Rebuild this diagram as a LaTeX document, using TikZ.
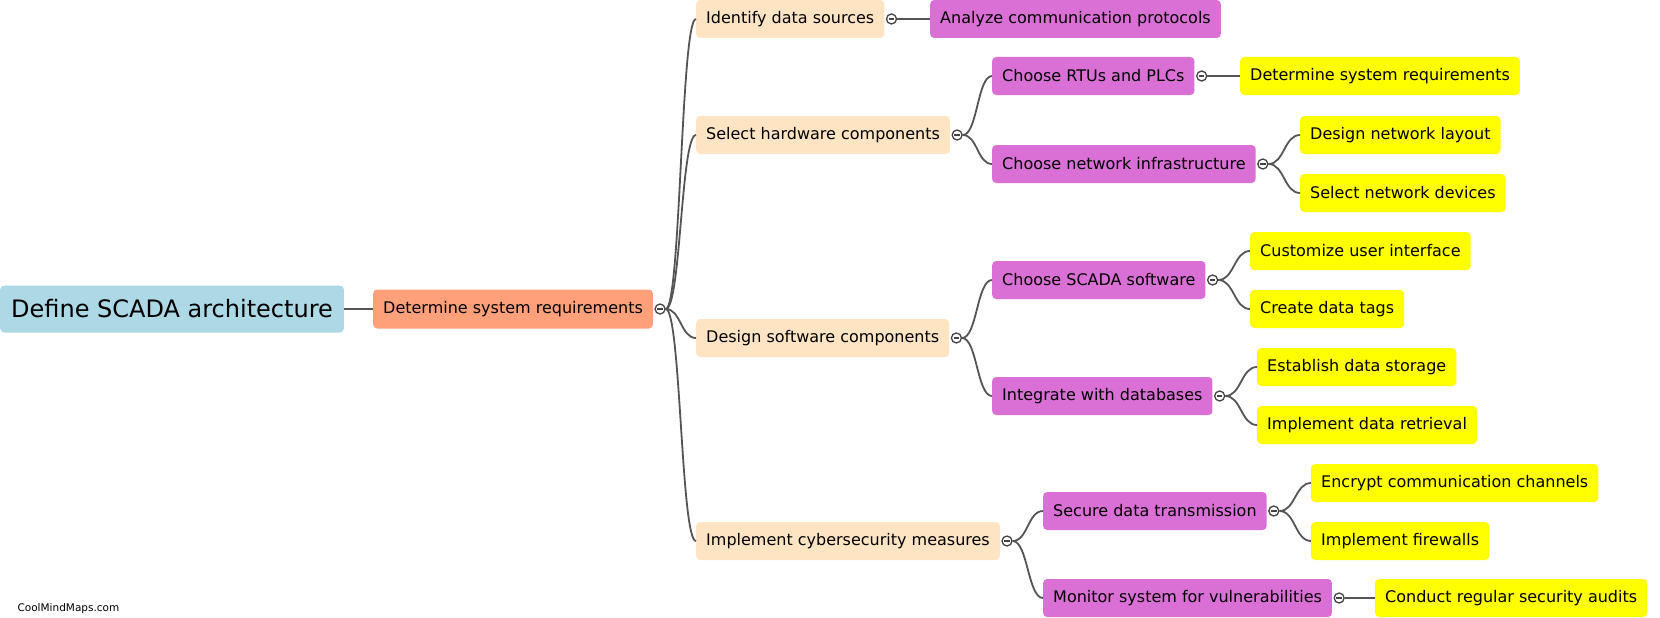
\documentclass[tikz,border=0pt]{standalone}
\usepackage{fontspec}
\setmainfont{DejaVu Sans}
\usetikzlibrary{calc,positioning}
\definecolor{rootblue}{HTML}{ADD8E6}
\definecolor{reqsalmon}{HTML}{FFA07A}
\definecolor{stagebisque}{HTML}{FFE4C4}
\definecolor{taskorchid}{HTML}{DA70D6}
\definecolor{leafyellow}{HTML}{FFFF00}
\definecolor{wire}{HTML}{555555}

\begin{document}
\begin{tikzpicture}[x=1pt, y=-1pt,
    box/.style={rounded corners=4pt, inner xsep=10pt, inner ysep=0pt, minimum height=38pt,
        anchor=west, text=black, font=\fontsize{16}{19}\selectfont},
    rootbox/.style={box, fill=rootblue, minimum height=47pt, inner xsep=11pt, font=\fontsize{24}{28}\selectfont},
    reqbox/.style={box, fill=reqsalmon, minimum height=39pt},
    stagebox/.style={box, fill=stagebisque},
    taskbox/.style={box, fill=taskorchid},
    leafbox/.style={box, fill=leafyellow},
    dot/.style={circle, draw=wire!80!black, fill=white, line width=1.3pt, minimum size=10pt, inner sep=0pt,
        path picture={\draw[wire!80!black, line width=1.6pt] ([xshift=-2.8pt]path picture bounding box.center)
            -- ([xshift=2.8pt]path picture bounding box.center);}},
    link/.style={draw=wire, line width=1.8pt,
        to path={let \p1=(\tikztostart), \p2=(\tikztotarget) in
            .. controls ({(\x1+\x2)/2},\y1) and ({(\x1+\x2)/2},\y2) .. (\tikztotarget)}}
]
    \useasboundingbox (0,0) rectangle (1660,618);

    \node[rootbox] (root) at (0,309) {Define SCADA architecture};
    \node[reqbox] (req) at (373,309) {Determine system requirements};

    \node[stagebox] (ids) at (696,19) {Identify data sources};
    \node[stagebox] (hw) at (696,135) {Select hardware components};
    \node[stagebox] (sw) at (696,338) {Design software components};
    \node[stagebox] (sec) at (696,541) {Implement cybersecurity measures};

    \node[taskbox] (acp) at (930,19) {Analyze communication protocols};
    \node[taskbox] (rtu) at (992,76) {Choose RTUs and PLCs};
    \node[taskbox] (net) at (992,164) {Choose network infrastructure};
    \node[taskbox] (scada) at (992,280) {Choose SCADA software};
    \node[taskbox] (db) at (992,396) {Integrate with databases};
    \node[taskbox] (tx) at (1043,511) {Secure data transmission};
    \node[taskbox] (mon) at (1043,598) {Monitor system for vulnerabilities};

    \node[leafbox] (dsr) at (1240,76) {Determine system requirements};
    \node[leafbox] (layout) at (1300,135) {Design network layout};
    \node[leafbox] (devices) at (1300,193) {Select network devices};
    \node[leafbox] (ui) at (1250,251) {Customize user interface};
    \node[leafbox] (tags) at (1250,309) {Create data tags};
    \node[leafbox] (store) at (1257,367) {Establish data storage};
    \node[leafbox] (fetch) at (1257,425) {Implement data retrieval};
    \node[leafbox] (encrypt) at (1311,483) {Encrypt communication channels};
    \node[leafbox] (fw) at (1311,541) {Implement firewalls};
    \node[leafbox] (audit) at (1375,598) {Conduct regular security audits};

    \foreach \n in {req,ids,hw,sw,sec,rtu,net,scada,db,tx,mon}
        \node[dot] (\n-dot) at ([xshift=7pt]\n.east) {};

    \draw[link] (root.east) to (req.west);
    \foreach \p/\c in {req/ids, req/hw, req/sw, req/sec, ids/acp, hw/rtu, hw/net, rtu/dsr,
        net/layout, net/devices, sw/scada, sw/db, scada/ui, scada/tags, db/store, db/fetch,
        sec/tx, sec/mon, tx/encrypt, tx/fw, mon/audit}
        \draw[link] (\p-dot.east) to (\c.west);

    \node[anchor=west, font=\fontsize{10.5}{12}\selectfont] (brand) at (14,609) {CoolMindMaps.com};
\end{tikzpicture}
\end{document}
